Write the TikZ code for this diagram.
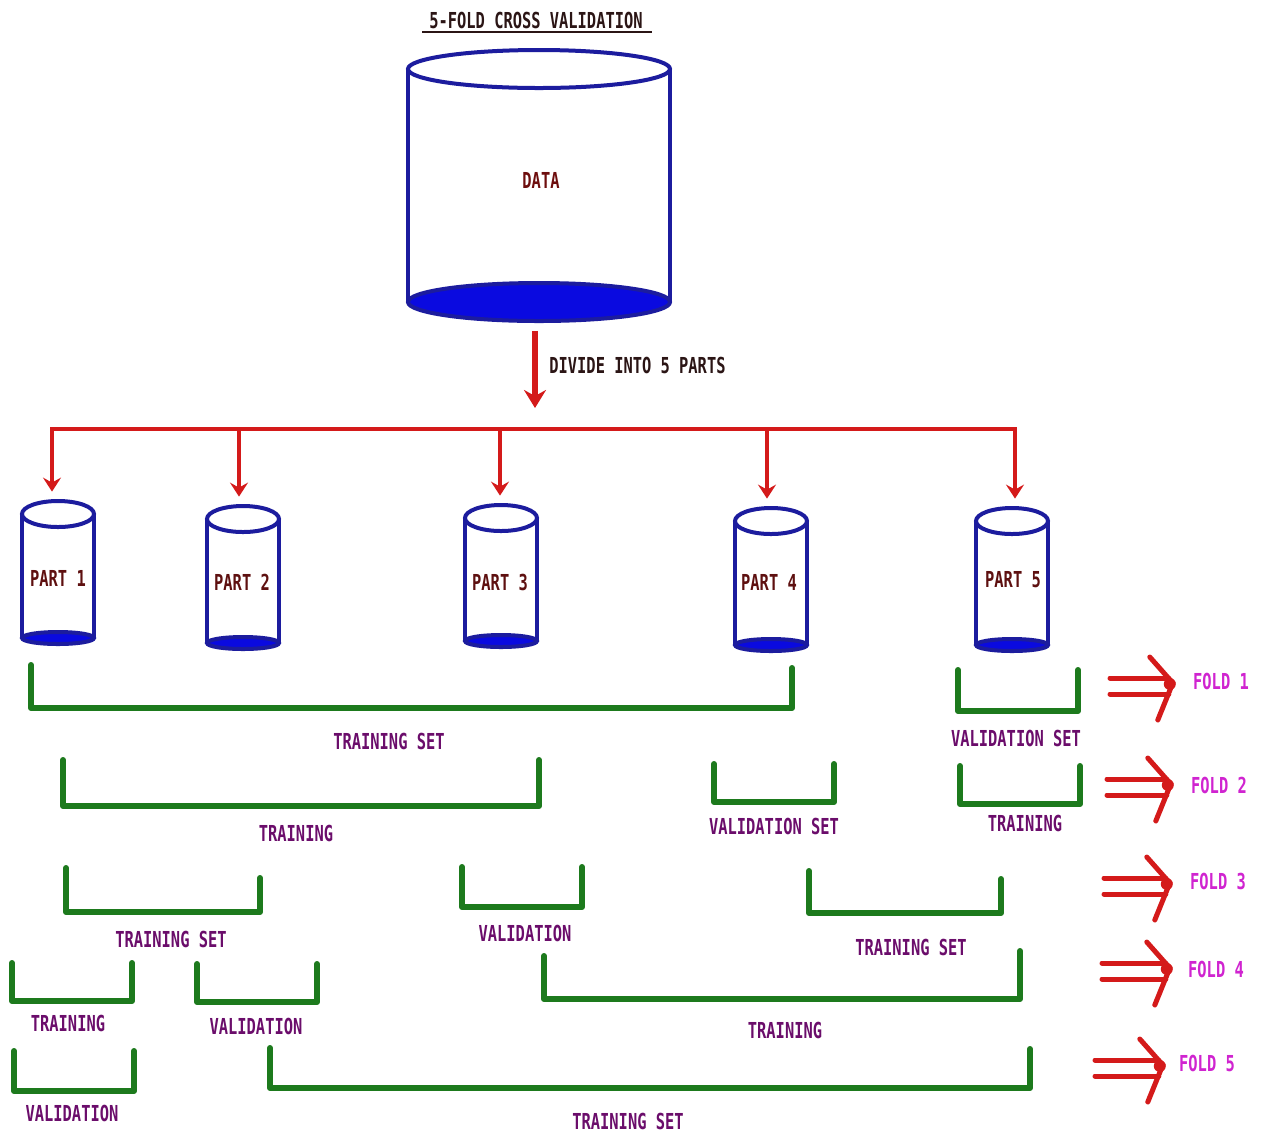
\documentclass[tikz,border=0pt]{standalone}
\usepackage{fontspec}
\usetikzlibrary{arrows.meta,calc}
\newfontfamily\pixfont[FakeStretch=0.7]{DejaVu Sans Mono Bold}

\definecolor{drumblue}{HTML}{1C1C9E}
\definecolor{drumfill}{HTML}{0A0AE0}
\definecolor{arrowred}{HTML}{D41A1A}
\definecolor{bracketgreen}{HTML}{1D7A1D}
\definecolor{setpurple}{HTML}{6B0D6B}
\definecolor{foldpink}{HTML}{D024D0}
\definecolor{partmaroon}{HTML}{5E1010}
\definecolor{headdark}{HTML}{2B1515}

\tikzset{
  txt/.style={font=\pixfont\fontsize{11}{13}\selectfont, inner sep=0pt, anchor=center},
  headtxt/.style={txt, text=headdark},
  parttxt/.style={txt, text=partmaroon},
  settxt/.style={txt, text=setpurple},
  foldtxt/.style={txt, text=foldpink},
  drumline/.style={draw=drumblue, line width=2pt},
  drumbox/.style={draw=none, inner sep=0pt, minimum width=#1},
  bracketline/.style={draw=bracketgreen, line width=3pt, line cap=round, line join=round},
  bus/.style={draw=arrowred, line width=2.4pt},
  droparrow/.style={draw=arrowred, line width=1.7pt, -{Stealth[length=7pt,width=9pt,inset=2.5pt]}},
  mainarrow/.style={draw=arrowred, line width=3pt, -{Stealth[length=9pt,width=11pt,inset=3pt]}},
  foldline/.style={draw=arrowred, line width=2.5pt, line cap=round},
}

% cylinder: centre x, half width, top y, top radius, bottom y, bottom radius
\newcommand\drawdrum[6]{%
  \fill[drumfill] (#1,#5) ellipse [x radius=#2, y radius=#6];
  \draw[drumline] (#1,#5) ellipse [x radius=#2, y radius=#6];
  \draw[drumline] (#1-#2,#3) -- (#1-#2,#5) (#1+#2,#3) -- (#1+#2,#5);
  \draw[drumline] (#1,#3) ellipse [x radius=#2, y radius=#4];
}
% open bracket: left x, left top y, right x, right top y, bottom y
\newcommand\setbracket[5]{%
  \draw[bracketline] (#1,#2) -- (#1,#5) -- (#3,#5) -- (#3,#4);
}
% double-shafted fold arrow ending at a named tip coordinate
\newcommand\foldarrow[2]{% tip name, shaft start x
  \path ($(#1)+(-4,-5)$) coordinate (#1ua) ($(#1)+(-4,11)$) coordinate (#1ub);
  \draw[foldline] (#1ua) -- (#1ua -| #2,0) (#1ub) -- (#1ub -| #2,0);
  \draw[foldline] ($(#1)+(-23,-26)$) -- (#1) -- ($(#1)+(-15,37)$);
  \fill[arrowred] ($(#1)+(-3,1)$) circle [radius=3pt];
}

\begin{document}
\begin{tikzpicture}[x=0.5pt, y=-0.5pt]
\useasboundingbox (0,0) rectangle (1264,1132);
\fill[white] (0,0) rectangle (1264,1132);

% title
\node[headtxt] (title) at (536,20) {5-FOLD CROSS VALIDATION};
\draw[headdark, line width=1pt] (422,32) -- (652,32);

% whole data set
\drawdrum{539}{131}{69}{19}{302}{19}
\node[drumbox=131pt, minimum height=136pt] (data) at (539,185.5) {};
\node[txt, text=partmaroon!90!red] (datatxt) at (541,180) {DATA};

% split arrow and bus
\coordinate (bus) at (535,429);
\draw[mainarrow, shorten <=4.5pt, shorten >=10.5pt] (data.south -| bus) -- (bus);
\node[headtxt, anchor=west] (divide) at (549,365) {DIVIDE INTO 5 PARTS};

\coordinate (b1) at (52,429);
\coordinate (b2) at (239,429);
\coordinate (b3) at (500,429);
\coordinate (b4) at (767,429);
\coordinate (b5) at (1015,429);
\draw[bus, line cap=rect] (b1) -- (b5);

% the five parts
\drawdrum{58}{36}{514}{13}{638}{6}
\drawdrum{243}{36}{519}{13}{643}{6}
\drawdrum{501}{36}{518}{13}{641}{6}
\drawdrum{771}{36}{521}{13}{645}{6}
\drawdrum{1012}{36}{521}{13}{645}{6}
\node[drumbox=36pt, minimum height=72pt] (c1) at (58,572) {};
\node[drumbox=36pt, minimum height=72pt] (c2) at (243,577) {};
\node[drumbox=36pt, minimum height=72pt] (c3) at (501,576) {};
\node[drumbox=36pt, minimum height=72pt] (c4) at (771,579) {};
\node[drumbox=36pt, minimum height=72pt] (c5) at (1012,579) {};
\node[parttxt] (t1) at (58,578) {PART 1};
\node[parttxt] (t2) at (242,582) {PART 2};
\node[parttxt] (t3) at (500,582) {PART 3};
\node[parttxt] (t4) at (769,582) {PART 4};
\node[parttxt] (t5) at (1013,580) {PART 5};

\draw[droparrow, shorten >=4pt] (b1) -- (b1 |- c1.north);
\draw[droparrow, shorten >=4pt] (b2) -- (b2 |- c2.north);
\draw[droparrow, shorten >=4pt] (b3) -- (b3 |- c3.north);
\draw[droparrow, shorten >=4pt] (b4) -- (b4 |- c4.north);
\draw[droparrow, shorten >=4pt] (b5) -- (b5 |- c5.north);

% fold 1
\setbracket{31}{665}{792}{668}{708}
\node[settxt] (f1tr) at (389,741) {TRAINING SET};
\setbracket{958}{670}{1078}{670}{711}
\node[settxt] (f1va) at (1016,738) {VALIDATION SET};

% fold 2
\setbracket{63}{760}{539}{760}{806}
\node[settxt] (f2tr) at (296,833) {TRAINING};
\setbracket{714}{764}{834}{764}{802}
\node[settxt] (f2va) at (774,826) {VALIDATION SET};
\setbracket{960}{766}{1080}{766}{804}
\node[settxt] (f2tb) at (1025,823) {TRAINING};

% fold 3
\setbracket{66}{868}{260}{878}{912}
\node[settxt] (f3tr) at (171,939) {TRAINING SET};
\setbracket{462}{867}{582}{867}{907}
\node[settxt] (f3va) at (525,933) {VALIDATION};
\setbracket{809}{871}{1001}{879}{913}
\node[settxt] (f3tb) at (911,947) {TRAINING SET};

% fold 4
\setbracket{12}{963}{132}{963}{1001}
\node[settxt] (f4tr) at (68,1023) {TRAINING};
\setbracket{197}{964}{317}{964}{1002}
\node[settxt] (f4va) at (256,1026) {VALIDATION};
\setbracket{544}{956}{1020}{951}{999}
\node[settxt] (f4tb) at (785,1030) {TRAINING};

% fold 5
\setbracket{14}{1051}{134}{1051}{1091}
\node[settxt] (f5va) at (72,1113) {VALIDATION};
\setbracket{270}{1048}{1030}{1049}{1088}
\node[settxt] (f5tr) at (628,1121) {TRAINING SET};

% fold markers
\node[foldtxt] (fold1) at (1221,681) {FOLD 1};
\node[foldtxt] (fold2) at (1219,785) {FOLD 2};
\node[foldtxt] (fold3) at (1218,881) {FOLD 3};
\node[foldtxt] (fold4) at (1216,969) {FOLD 4};
\node[foldtxt] (fold5) at (1207,1063) {FOLD 5};
\coordinate (k1) at ($(fold1.west)+(-20,2)$);
\coordinate (k2) at ($(fold2.west)+(-20,-1)$);
\coordinate (k3) at ($(fold3.west)+(-20,2)$);
\coordinate (k4) at ($(fold4.west)+(-18,-1)$);
\coordinate (k5) at ($(fold5.west)+(-16,2)$);
\foldarrow{k1}{1110}
\foldarrow{k2}{1107}
\foldarrow{k3}{1104}
\foldarrow{k4}{1102}
\foldarrow{k5}{1095}
\end{tikzpicture}
\end{document}
